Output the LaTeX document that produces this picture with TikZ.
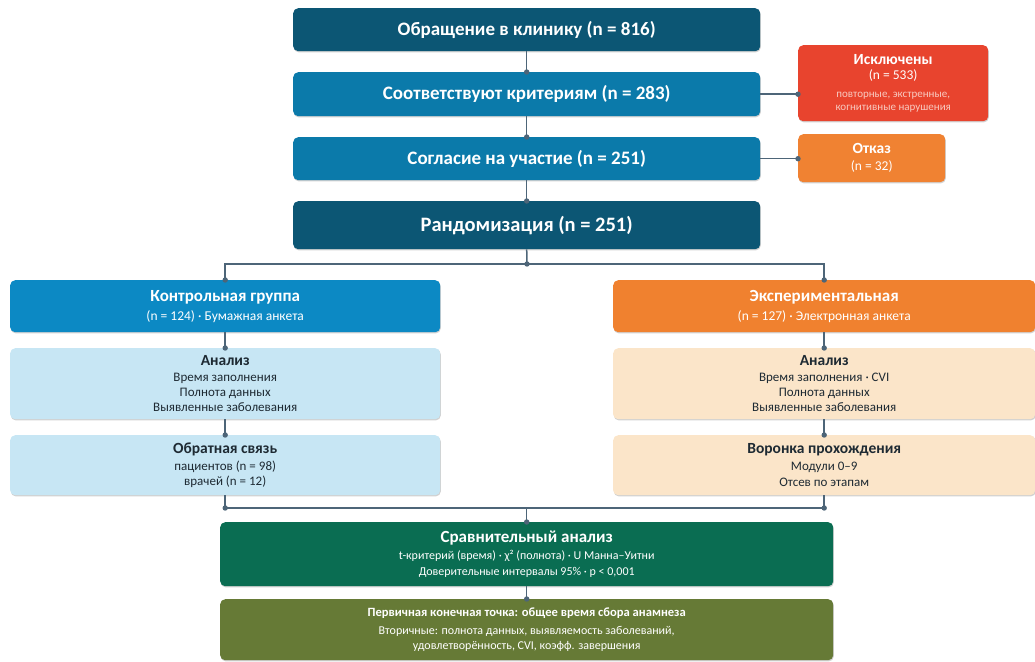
\documentclass[tikz,border=0pt]{standalone}
\usepackage{fontspec}
\setmainfont{Carlito}
\usetikzlibrary{shadows}
\definecolor{navy}{HTML}{0C5674}
\definecolor{midblue}{HTML}{0B7AAA}
\definecolor{ctrlblue}{HTML}{0C89C4}
\definecolor{lightblue}{HTML}{C7E6F4}
\definecolor{exporange}{HTML}{F0812F}
\definecolor{peach}{HTML}{FBE5C9}
\definecolor{exred}{HTML}{E8442E}
\definecolor{refusal}{HTML}{F08232}
\definecolor{compgreen}{HTML}{0A6D52}
\definecolor{olive}{HTML}{667A36}
\definecolor{lineC}{HTML}{4D6578}
\definecolor{darktext}{HTML}{1E2A33}
\definecolor{pinktext}{HTML}{F8C9C0}
\tikzset{
  box/.style={rounded corners=5pt, anchor=north west, inner sep=0pt, align=center, text=white,
    drop shadow={shadow xshift=0.6pt, shadow yshift=-1.2pt, opacity=0.18, fill=black}},
  conn/.style={draw=lineC, line width=1.5pt},
}
\newcommand\fs[2]{\fontsize{#1}{#2}\selectfont}
\newcommand\dotat[1]{\fill[lineC] (#1) circle (2.7pt);}
\begin{document}
\begin{tikzpicture}[x=1pt,y=-1pt]
\useasboundingbox (0,0) rectangle (1035,661);
% main column
\node[box, fill=navy, minimum width=467pt, minimum height=43pt, font=\fs{19}{22}\bfseries] (b1) at (293,8)
  {Обращение в клинику (n = 816)};
\node[box, fill=midblue, minimum width=467pt, minimum height=44pt, font=\fs{19}{22}\bfseries] (b2) at (293,72)
  {Соответствуют критериям (n = 283)};
\node[box, fill=midblue, minimum width=467pt, minimum height=43pt, font=\fs{19}{22}\bfseries] (b3) at (293,137)
  {Согласие на участие (n = 251)};
\node[box, fill=navy, minimum width=467pt, minimum height=48pt, font=\fs{20.5}{24}\bfseries] (b4) at (293,201)
  {Рандомизация (n = 251)};
% side boxes
\node[box, fill=exred, minimum width=190pt, minimum height=76pt, font=\fs{11}{12.5}] (ex) at (798,45)
  {{\fs{15.5}{17}\bfseries Исключены}\\[3pt]{\fs{13.5}{15}(n = 533)}\\[5pt]
   \color{pinktext}повторные, экстренные,\\[0.5pt]\color{pinktext}когнитивные нарушения};
\node[box, fill=refusal, minimum width=147pt, minimum height=48pt, font=\fs{13.5}{16}] (ot) at (798,134)
  {{\fs{15.5}{17}\bfseries Отказ}\\[1pt](n = 32)};
% groups
\node[box, fill=ctrlblue, minimum width=430pt, minimum height=52pt, font=\fs{13.5}{19}] (ctrl) at (10,280)
  {{\fs{17}{19}\bfseries Контрольная группа}\\(n = 124) · Бумажная анкета};
\node[box, fill=exporange, minimum width=422pt, minimum height=52pt, font=\fs{13.5}{19}] (exp) at (613,280)
  {{\fs{17}{19}\bfseries Экспериментальная}\\(n = 127) · Электронная анкета};
\node[box, fill=lightblue, text=darktext, minimum width=430pt, minimum height=71pt, font=\fs{13}{15}] (ca) at (10,348)
  {{\fs{15.5}{17}\bfseries Анализ}\\[1pt]Время заполнения\\Полнота данных\\Выявленные заболевания};
\node[box, fill=peach, text=darktext, minimum width=422pt, minimum height=71pt, font=\fs{13}{15}] (ea) at (613,348)
  {{\fs{15.5}{17}\bfseries Анализ}\\[1pt]Время заполнения · CVI\\Полнота данных\\Выявленные заболевания};
\node[box, fill=lightblue, text=darktext, minimum width=430pt, minimum height=60pt, font=\fs{13}{15.5}] (cf) at (10,435)
  {{\fs{15.5}{17}\bfseries Обратная связь}\\[1.5pt]пациентов (n = 98)\\врачей (n = 12)};
\node[box, fill=peach, text=darktext, minimum width=422pt, minimum height=60pt, font=\fs{13}{15.5}] (ef) at (613,435)
  {{\fs{15.5}{17}\bfseries Воронка прохождения}\\[1.5pt]Модули 0–9\\Отсев по этапам};
% bottom
\node[box, fill=compgreen, minimum width=613pt, minimum height=64pt, font=\fs{12}{16}] (cmp) at (220,522)
  {{\fs{17}{19}\bfseries Сравнительный анализ}\\[1pt]t-критерий (время) · χ² (полнота) · U Манна–Уитни\\Доверительные интервалы 95\% · p < 0,001};
\node[box, fill=olive, minimum width=613pt, minimum height=61pt, font=\fs{12}{15}] (fin) at (220,599)
  {{\fs{12.6}{15}\bfseries Первичная конечная точка: общее время сбора анамнеза}\\[2.5pt]Вторичные: полнота данных, выявляемость заболеваний,\\удовлетворённость, CVI, коэфф. завершения};
% connectors
\draw[conn] (b1.south) -- (b2.north); \dotat{b2.north}
\draw[conn] (b2.south) -- (b3.north); \dotat{b3.north}
\draw[conn] (b3.south) -- (b4.north); \dotat{b4.north}
\draw[conn] (b2.east) -- (ex.west|-b2.east); \dotat{ex.west|-b2.east}
\draw[conn] (b3.east) -- (ot.west|-b3.east); \dotat{ot.west|-b3.east}
\coordinate (split) at (527,264);
\draw[conn] (b4.south) -- (split); \dotat{split}
\draw[conn] (ctrl.north) |- (split) -| (exp.north);
\dotat{ctrl.north} \dotat{exp.north}
\draw[conn] (ctrl.south) -- (ca.north); \dotat{ca.north}
\draw[conn] (exp.south) -- (ea.north); \dotat{ea.north}
\draw[conn] (ca.south) -- (cf.north); \dotat{cf.north}
\draw[conn] (ea.south) -- (ef.north); \dotat{ef.north}
\coordinate (lm) at (cf.south|-0,508);
\coordinate (rm) at (ef.south|-0,508);
\coordinate (merge) at (cmp.north|-0,508);
\draw[conn] (cf.south) -- (lm) -- (rm) -- (ef.south);
\dotat{lm} \dotat{rm}
\draw[conn] (merge) -- (cmp.north); \dotat{cmp.north}
\draw[conn] (cmp.south) -- (fin.north); \dotat{fin.north}
\end{tikzpicture}
\end{document}
